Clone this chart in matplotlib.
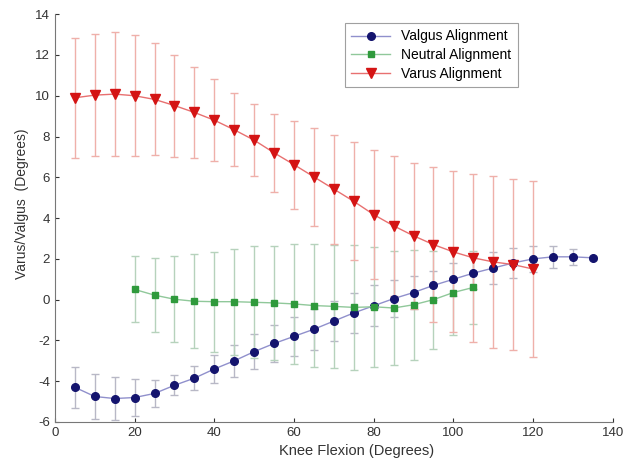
import matplotlib
matplotlib.use("Agg")
import matplotlib.pyplot as plt
import numpy as np

plt.rcParams['font.family'] = ['Liberation Sans', 'DejaVu Sans']
plt.rcParams['axes.unicode_minus'] = False

# Knee flexion angles (degrees)
valgus_x = [5, 10, 15, 20, 25, 30, 35, 40, 45, 50, 55, 60, 65, 70, 75, 80, 85,
            90, 95, 100, 105, 110, 115, 120, 125, 130, 135]
valgus_y = [-4.3, -4.75, -4.85, -4.8, -4.6, -4.2, -3.85, -3.4, -3.0, -2.55, -2.15,
            -1.8, -1.45, -1.05, -0.65, -0.3, 0.05, 0.35, 0.7, 1.0, 1.3, 1.55, 1.8,
            2.0, 2.1, 2.1, 2.05]
valgus_err = [1.0, 1.1, 1.05, 0.9, 0.65, 0.5, 0.6, 0.7, 0.8, 0.85, 0.9, 0.95, 1.0,
              1.0, 1.0, 1.0, 0.9, 0.8, 0.7, 0.8, 0.8, 0.8, 0.75, 0.65, 0.55, 0.4, 0.1]

neutral_x = [20, 25, 30, 35, 40, 45, 50, 55, 60, 65, 70, 75, 80, 85, 90, 95, 100, 105]
neutral_y = [0.5, 0.22, 0.02, -0.08, -0.1, -0.1, -0.13, -0.16, -0.21, -0.29, -0.33,
             -0.38, -0.35, -0.41, -0.25, 0.0, 0.35, 0.6]
neutral_err = [1.62, 1.8, 2.1, 2.3, 2.45, 2.6, 2.75, 2.8, 2.95, 3.0, 3.0, 3.05, 2.95,
               2.8, 2.7, 2.4, 2.1, 1.8]

varus_x = [5, 10, 15, 20, 25, 30, 35, 40, 45, 50, 55, 60, 65, 70, 75, 80, 85, 90,
           95, 100, 105, 110, 115, 120]
varus_y = [9.9, 10.03, 10.08, 10.0, 9.82, 9.52, 9.18, 8.8, 8.33, 7.82, 7.2, 6.62,
           6.02, 5.42, 4.82, 4.17, 3.62, 3.13, 2.7, 2.34, 2.05, 1.85, 1.72, 1.5]
varus_err = [2.95, 3.0, 3.05, 2.97, 2.75, 2.5, 2.25, 2.0, 1.8, 1.78, 1.9, 2.15, 2.42,
             2.67, 2.89, 3.18, 3.42, 3.58, 3.8, 3.95, 4.12, 4.2, 4.18, 4.3]

x_ticks = [0, 20, 40, 60, 80, 100, 120, 140]
y_ticks = [-6, -4, -2, 0, 2, 4, 6, 8, 10, 12, 14]

fig = plt.figure(figsize=(6.39, 4.65), dpi=100)
ax = fig.add_axes([0.086, 0.0925, 0.873, 0.877])

series = [
    (valgus_x, valgus_y, valgus_err, 'Valgus Alignment', 'o', '#14146e', '#9090cc', '#b8b8c6', 5.5),
    (neutral_x, neutral_y, neutral_err, 'Neutral Alignment', 's', '#2f9a3c', '#90c89a', '#b6d2bc', 5.0),
    (varus_x, varus_y, varus_err, 'Varus Alignment', 'v', '#d41414', '#e87070', '#efb0aa', 7.0),
]

for xs, ys, es, lab, mk, mc, lc, ec, ms in series:
    ax.errorbar(xs, ys, yerr=es, fmt='none', ecolor=ec, elinewidth=1.0,
                capsize=3, capthick=1.0, zorder=1)
for xs, ys, es, lab, mk, mc, lc, ec, ms in series:
    ax.plot(xs, ys, color=lc, linewidth=1.0, marker=mk, markersize=ms,
            markerfacecolor=mc, markeredgecolor=mc, label=lab, zorder=3)

ax.set_xlim(0, 140)
ax.set_ylim(-6, 14)
ax.set_xticks(x_ticks)
ax.set_yticks(y_ticks)
ax.tick_params(direction='in', length=3, labelsize=9.5, colors='#333333')
for s in ['top', 'right']:
    ax.spines[s].set_visible(False)
for s in ['left', 'bottom']:
    ax.spines[s].set_color('#777777')

ax.set_xlabel('Knee Flexion (Degrees)', fontsize=10.5, color='#333333', labelpad=5)
ax.xaxis.set_label_coords(0.54, -0.055)
ax.set_ylabel('Varus/Valgus  (Degrees)', fontsize=10, color='#333333', labelpad=3)
ax.yaxis.set_label_coords(-0.047, 0.535)

leg = ax.legend(loc='upper left', bbox_to_anchor=(0.52, 0.978), fontsize=10,
                frameon=True, fancybox=False, edgecolor='#888888',
                handlelength=2.8, borderpad=0.45, labelspacing=0.35,
                borderaxespad=0)
leg.get_frame().set_linewidth(0.8)

fig.savefig('out.png', dpi=100, facecolor='white')
